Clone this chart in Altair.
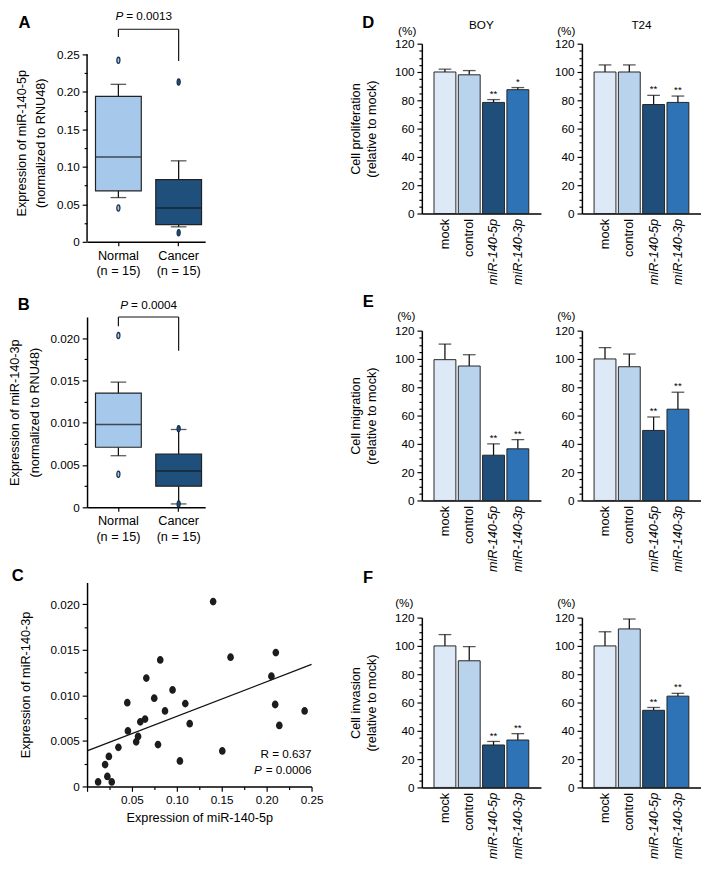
import altair as alt
import pandas as pd

FONT = "Liberation Sans"
INK = "#111111"
ELL_TALL = "M0,-1A0.5,1,0,1,1,0,1A0.5,1,0,1,1,0,-1Z"
ELL_DOT = "M0,-1A0.85,1,0,1,1,0,1A0.85,1,0,1,1,0,-1Z"

# ---------------- A / B : box plots ----------------
groups = ["Normal", "Cancer"]
group_n = [15, 15]
box_colors = ["#a6c8ea", "#1f4f7b"]

a_lo = [0.059, 0.020]
a_q1 = [0.068, 0.023]
a_med = [0.113, 0.045]
a_q3 = [0.194, 0.083]
a_hi = [0.210, 0.108]
a_out_group = ["Normal", "Normal", "Cancer", "Cancer"]
a_out_val = [0.242, 0.045, 0.213, 0.012]
a_pval = "0.0013"

b_lo = [0.0061, 0.0004]
b_q1 = [0.0071, 0.0025]
b_med = [0.0098, 0.0043]
b_q3 = [0.0135, 0.0063]
b_hi = [0.0148, 0.0092]
b_out_group = ["Normal", "Normal", "Cancer", "Cancer"]
b_out_val = [0.0203, 0.0039, 0.0093, 0.0004]
b_pval = "0.0004"

# ---------------- C : scatter ----------------
c_x = [0.0123, 0.0226, 0.0275, 0.0201, 0.0243, 0.0349, 0.0448, 0.0455, 0.0547, 0.0568,
       0.0593, 0.0646, 0.0660, 0.0748, 0.0790, 0.0815, 0.0868, 0.0952, 0.1034, 0.1094,
       0.1143, 0.1404, 0.1506, 0.1598, 0.2053, 0.2102, 0.2095, 0.2141, 0.2423]
c_y = [0.0005, 0.0011, 0.0005, 0.0024, 0.0033, 0.0043, 0.0092, 0.0061, 0.0049, 0.0055,
       0.0071, 0.0074, 0.0119, 0.0097, 0.0046, 0.0139, 0.0083, 0.0106, 0.0028, 0.0091,
       0.0069, 0.0203, 0.0039, 0.0142, 0.0121, 0.0147, 0.0090, 0.0067, 0.0083]
fit_x = [0.0, 0.25]
fit_y = [0.0039, 0.0134]
c_r = "0.637"
c_pval = "0.0006"

# ---------------- D / E / F : bars ----------------
treatments = ["mock", "control", "miR-140-5p", "miR-140-3p"]
bar_colors = ["#dde9f6", "#b9d3ec", "#1f4e7b", "#2d73b6"]

prolif_boy = [100, 98, 78.5, 87.5]
prolif_boy_err = [2, 3, 2, 1.5]
prolif_boy_sig = ["", "", "**", "*"]
prolif_t24 = [100, 100, 77, 78.5]
prolif_t24_err = [5, 5, 6.5, 4.5]
prolif_t24_sig = ["", "", "**", "**"]

migr_boy = [99.5, 95, 32, 36.5]
migr_boy_err = [11, 8, 8, 6.5]
migr_boy_sig = ["", "", "**", "**"]
migr_t24 = [100, 94.5, 49.5, 64.5]
migr_t24_err = [8, 9, 9.5, 12]
migr_t24_sig = ["", "", "**", "**"]

inv_boy = [100, 89.5, 30, 33.5]
inv_boy_err = [8, 10, 2.5, 4.5]
inv_boy_sig = ["", "", "**", "**"]
inv_t24 = [100, 112, 54.5, 64.5]
inv_t24_err = [10, 7, 2, 2]
inv_t24_sig = ["", "", "**", "**"]


def tick_cond(test, major, minor):
    return {"condition": {"test": test, "value": major}, "value": minor}


def note(text, x, y, size=12, weight="normal", style="normal", align="center"):
    return alt.Chart(pd.DataFrame({"t": [text]})).mark_text(
        fontSize=size, fontWeight=weight, fontStyle=style, align=align,
        baseline="middle", font=FONT, color="black"
    ).encode(x=alt.value(x), y=alt.value(y), text="t:N")


xlab = " : ".join(
    f"datum.label == '{g}' ? ['{g}', '(n = {n})']" for g, n in zip(groups, group_n)
) + " : datum.label"


def box_panel(lo, q1, med, q3, hi, out_g, out_v, ymax, tick_vals, ymult, yfmt, ytitle,
              pval, br_top, br_ends, p_y, p_dx, letter, letter_xy, width, height, axis_top=None):
    df = pd.DataFrame({"group": groups, "lo": lo, "q1": q1, "med": med, "q3": q3, "hi": hi,
                       "br_top": [br_top, br_top], "br_end": br_ends})
    major = f"round(datum.value*{ymult}) % 2 == 0"
    yaxis = alt.Axis(
        title=ytitle, values=tick_vals,
        labelExpr=f"{major} ? (datum.value == 0 ? '0' : format(datum.value, '{yfmt}')) : ''",
        tickSize=tick_cond(major, 5, 3), labelOverlap=False, labelPadding=3,
        titlePadding=9, titleLineHeight=20, domain=axis_top is None, labelFlush=False,
    )
    ys = alt.Scale(domain=[0, ymax], nice=False, zero=False)

    def Y(f):
        return alt.Y(f"{f}:Q", scale=ys, axis=yaxis)

    x = alt.X("group:N", sort=groups,
              scale=alt.Scale(domain=groups, paddingInner=0.24, paddingOuter=0.1, align=0.7),
              axis=alt.Axis(title=None, labelExpr=xlab, labelAngle=0, labelFontSize=13,
                            labelLineHeight=16, tickSize=4, labelPadding=4, labelBaseline="top"))
    color = alt.Color("group:N", scale=alt.Scale(domain=groups, range=box_colors), legend=None)
    base = alt.Chart(df)
    layers = []
    if axis_top is not None:
        layers.append(alt.Chart(pd.DataFrame({"y0": [0.0], "y1": [axis_top]})).mark_rule(
            color="black", strokeWidth=1.5).encode(x=alt.value(0), y=Y("y0"), y2="y1:Q"))
    layers += [
        base.mark_rule(color=INK, strokeWidth=1.3).encode(x=x, y=Y("q3"), y2="hi:Q"),
        base.mark_rule(color=INK, strokeWidth=1.3).encode(x=x, y=Y("q1"), y2="lo:Q"),
        base.mark_tick(color=INK, size=16, thickness=1.3).encode(x=x, y=Y("hi")),
        base.mark_tick(color=INK, size=16, thickness=1.3).encode(x=x, y=Y("lo")),
        base.mark_bar(stroke="#222222", strokeWidth=1.2).encode(x=x, y=Y("q3"), y2="q1:Q", color=color),
        base.mark_tick(color=INK, size=46, thickness=1.6).encode(x=x, y=Y("med")),
        alt.Chart(pd.DataFrame({"group": out_g, "val": out_v})).mark_point(
            shape=ELL_TALL, size=40, filled=True, opacity=1, stroke="#17324f", strokeWidth=1.3
        ).encode(x=x, y=Y("val"), color=color),
        base.mark_rule(color=INK, strokeWidth=1.2).encode(x=x, y=Y("br_top"), y2="br_end:Q"),
        base.mark_line(color=INK, strokeWidth=1.2).encode(x=x, y=Y("br_top")),
    ]
    pt = alt.Chart(pd.DataFrame({"group": [groups[0]], "y": [p_y], "p": ["P"], "rest": [f"= {pval}"]}))
    layers += [
        pt.mark_text(align="left", baseline="middle", fontStyle="italic", fontSize=12, font=FONT,
                     dx=p_dx).encode(x=x, y=Y("y"), text="p:N"),
        pt.mark_text(align="left", baseline="middle", fontSize=12, font=FONT,
                     dx=p_dx + 11).encode(x=x, y=Y("y"), text="rest:N"),
        note(letter, letter_xy[0], letter_xy[1], size=17, weight="bold"),
    ]
    return alt.layer(*layers).properties(width=width, height=height)


def scatter_panel(width, height):
    xs = alt.Scale(domain=[0, 0.25], nice=False, zero=False)
    ys = alt.Scale(domain=[0, 0.0224], nice=False, zero=False)
    xmajor = "round(datum.value*40) % 2 == 0"
    ymajor = "round(datum.value*400) % 2 == 0"
    xaxis = alt.Axis(title="Expression of miR-140-5p",
                     values=[round(i * 0.025, 4) for i in range(11)],
                     labelExpr=f"{xmajor} && datum.value > 0 ? format(datum.value, '.2f') : ''",
                     tickSize=tick_cond(xmajor, 5, 3), labelOverlap=False, labelFlush=False,
                     labelPadding=3, titlePadding=7)
    yaxis = alt.Axis(title="Expression of miR-140-3p",
                     values=[round(i * 0.0025, 5) for i in range(9)],
                     labelExpr=f"{ymajor} ? (datum.value == 0 ? '0' : format(datum.value, '.3f')) : ''",
                     tickSize=tick_cond(ymajor, 5, 3), labelOverlap=False, labelFlush=False,
                     labelPadding=3, titlePadding=18)

    def X(f):
        return alt.X(f"{f}:Q", scale=xs, axis=xaxis)

    def Y(f):
        return alt.Y(f"{f}:Q", scale=ys, axis=yaxis)

    pts = alt.Chart(pd.DataFrame({"x": c_x, "y": c_y})).mark_point(
        shape=ELL_DOT, size=64, filled=True, opacity=1, color="#1c1c1c").encode(x=X("x"), y=Y("y"))
    fit = alt.Chart(pd.DataFrame({"x": fit_x, "y": fit_y})).mark_line(
        color=INK, strokeWidth=1.3).encode(x=X("x"), y=Y("y"))
    ann = alt.Chart(pd.DataFrame({"x": [0.25], "y1": [0.0035], "y2": [0.0018],
                                  "r": [f"R = {c_r}"], "p": ["P"], "rest": [f"= {c_pval}"]}))
    r_t = ann.mark_text(align="right", baseline="middle", fontSize=12, font=FONT).encode(
        x=X("x"), y=Y("y1"), text="r:N")
    p_rest = ann.mark_text(align="right", baseline="middle", fontSize=12, font=FONT).encode(
        x=X("x"), y=Y("y2"), text="rest:N")
    p_p = ann.mark_text(align="right", baseline="middle", fontSize=12, font=FONT,
                        fontStyle="italic", dx=-51).encode(x=X("x"), y=Y("y2"), text="p:N")
    lett = note("C", -71, -7, size=17, weight="bold")
    return alt.layer(fit, pts, r_t, p_rest, p_p, lett).properties(width=width, height=height)


def bar_panel(vals, errs, sig, ytitle, pct_xy, letter=None, letter_xy=None, title=None,
              width=122, height=174):
    df = pd.DataFrame({"treatment": treatments, "value": vals, "err": errs, "sig": sig})
    major = "datum.value % 20 == 0"
    yaxis = alt.Axis(title=ytitle, values=list(range(0, 121, 5)),
                     labelExpr=f"{major} ? datum.label : ''",
                     tickSize=tick_cond(major, 5, 3), labelOverlap=False, labelPadding=3,
                     titlePadding=16, titleLineHeight=17, labelFlush=False)
    ys = alt.Scale(domain=[0, 120], nice=False)

    def Y(f):
        return alt.Y(f"{f}:Q", scale=ys, axis=yaxis)

    x = alt.X("treatment:N", sort=treatments,
              scale=alt.Scale(domain=treatments, paddingInner=0.1, paddingOuter=0.5),
              axis=alt.Axis(title=None, labelAngle=-90, ticks=False, labelPadding=5,
                            labelFontSize=13, labelOverlap=False,
                            labelFontStyle={"condition": {"test": "indexof(datum.value, 'miR') === 0",
                                                          "value": "italic"}, "value": "normal"}))
    color = alt.Color("treatment:N", scale=alt.Scale(domain=treatments, range=bar_colors), legend=None)
    base = alt.Chart(df).transform_calculate(top="datum.value + datum.err")
    layers = [
        base.mark_rule(color=INK, strokeWidth=1.3).encode(x=x, y=Y("value"), y2="top:Q"),
        base.mark_tick(color=INK, size=13, thickness=1.3).encode(x=x, y=Y("top")),
        base.mark_bar(stroke="#222222", strokeWidth=1).encode(x=x, y=Y("value"), color=color),
        base.mark_text(baseline="bottom", dy=-1, fontSize=10, font=FONT, color="black").encode(
            x=x, y=Y("top"), text="sig:N"),
        note("(%)", pct_xy[0], pct_xy[1], size=12),
    ]
    if letter:
        layers.append(note(letter, letter_xy[0], letter_xy[1], size=17, weight="bold"))
    if title:
        layers.append(note(title, width / 2, -19, size=12))
    return alt.layer(*layers).properties(width=width, height=height)


A = box_panel(a_lo, a_q1, a_med, a_q3, a_hi, a_out_group, a_out_val,
              ymax=0.2642, tick_vals=[round(i * 0.025, 4) for i in range(11)], ymult=40, yfmt=".2f",
              ytitle=["Expression of miR-140-5p", "(normalized to RNU48)"],
              pval=a_pval, br_top=0.2835, br_ends=[0.2732, 0.241], p_y=0.3015, p_dx=-3,
              letter="A", letter_xy=(-64, -21), width=121, height=203, axis_top=0.25)
B = box_panel(b_lo, b_q1, b_med, b_q3, b_hi, b_out_group, b_out_val,
              ymax=0.0225, tick_vals=[round(i * 0.0025, 5) for i in range(9)], ymult=400, yfmt=".3f",
              ytitle=["Expression of miR-140-3p", "(normalized to RNU48)"],
              pval=b_pval, br_top=0.0225, br_ends=[0.0214, 0.0185], p_y=0.0239, p_dx=2,
              letter="B", letter_xy=(-65, -12), width=121, height=195)
C = scatter_panel(230, 209)

left = alt.vconcat(A, B, C, spacing=77, bounds="flush")

right = alt.concat(
    bar_panel(prolif_boy, prolif_boy_err, prolif_boy_sig, ["Cell proliferation", "(relative to mock)"],
              (-15, -13), letter="D", letter_xy=(-55, -21), title="BOY"),
    bar_panel(prolif_t24, prolif_t24_err, prolif_t24_sig, None, (-16, -13), title="T24"),
    bar_panel(migr_boy, migr_boy_err, migr_boy_sig, ["Cell migration", "(relative to mock)"],
              (-16, -15), letter="E", letter_xy=(-55, -29)),
    bar_panel(migr_t24, migr_t24_err, migr_t24_sig, None, (-16, -15)),
    bar_panel(inv_boy, inv_boy_err, inv_boy_sig, ["Cell invasion", "(relative to mock)"],
              (-18, -15), letter="F", letter_xy=(-55, -40)),
    bar_panel(inv_t24, inv_t24_err, inv_t24_sig, None, (-16, -15)),
    columns=2, spacing={"row": 120, "column": 42}, bounds="flush")

chart = alt.hconcat(left, right, spacing=26).resolve_scale(color="independent").properties(
    padding={"top": -9, "left": 0, "right": 0, "bottom": 0}
).configure_view(
    stroke=None
).configure_axis(
    domainColor="black", tickColor="black", labelColor="black", titleColor="black",
    labelFont=FONT, titleFont=FONT, titleFontWeight="normal", titleFontSize=13,
    labelFontSize=12, grid=False, domainWidth=1.5, tickWidth=1.2
).configure_title(font=FONT, fontWeight="normal", fontSize=12, color="black")

chart.save("out.html", embed_options={"renderer": "svg", "actions": False})
